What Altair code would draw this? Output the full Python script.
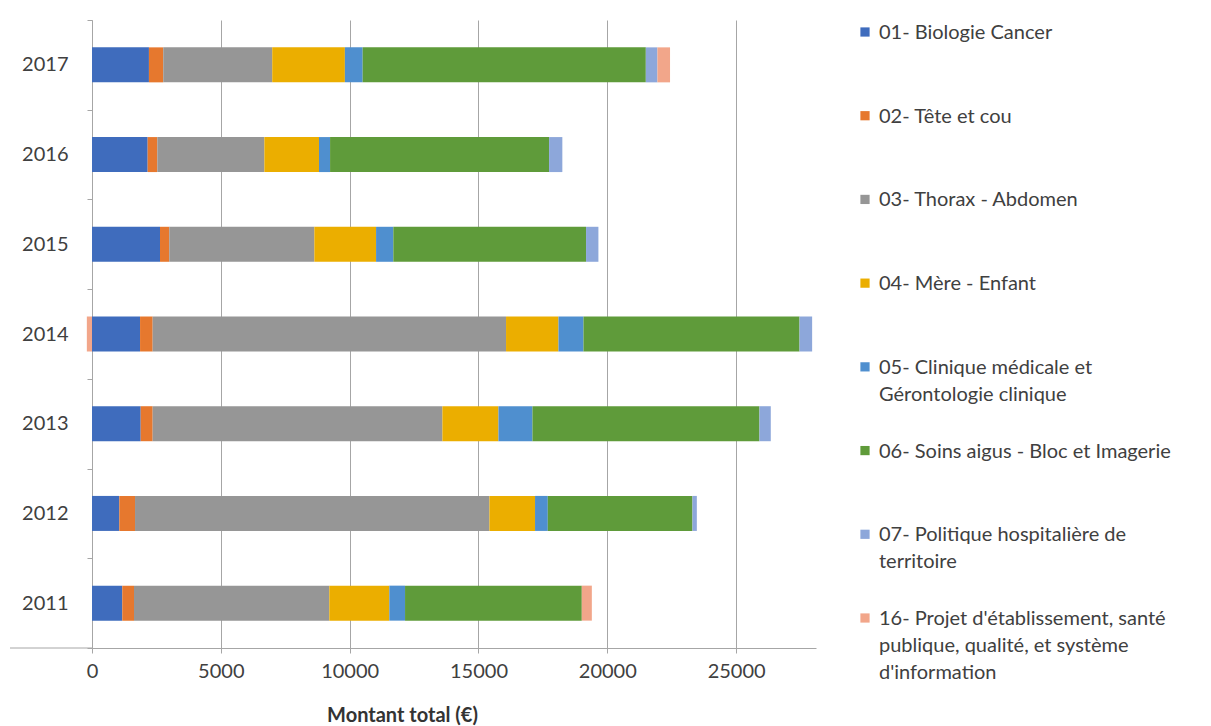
import altair as alt
import pandas as pd

years = ["2011", "2012", "2013", "2014", "2015", "2016", "2017"]
series = [
    "01- Biologie Cancer",
    "02- Tête et cou",
    "03- Thorax - Abdomen",
    "04- Mère - Enfant",
    "05- Clinique médicale et Gérontologie clinique",
    "06- Soins aigus - Bloc et Imagerie",
    "07- Politique hospitalière de territoire",
    "16- Projet d'établissement, santé publique, qualité, et système d'information",
]
legend_labels = [
    "01- Biologie Cancer",
    "02- Tête et cou",
    "03- Thorax - Abdomen",
    "04- Mère - Enfant",
    "05- Clinique médicale et\nGérontologie clinique",
    "06- Soins aigus - Bloc et Imagerie",
    "07- Politique hospitalière de\nterritoire",
    "16- Projet d'établissement, santé\npublique, qualité, et système\nd'information",
]
colors = ["#3F6CBD", "#E6782E", "#969696", "#EBAE00", "#4F8FCF", "#5F9B3A", "#8DA7DA", "#F2A68A"]

s01 = [1175, 1060, 1890, 1865, 2640, 2160, 2210]
s02 = [455, 610, 465, 490, 360, 375, 555]
s03 = [7580, 13755, 11245, 13715, 5630, 4155, 4230]
s04 = [2330, 1770, 2175, 2035, 2395, 2120, 2820]
s05 = [610, 495, 1320, 970, 670, 430, 690]
s06 = [6860, 5615, 8810, 8385, 7480, 8500, 10990]
s07 = [0, 170, 440, 490, 480, 515, 450]
s16 = [390, 0, 0, -200, 0, 0, 490]
x_ticks = [0, 5000, 10000, 15000, 20000, 25000]

values = [s01, s02, s03, s04, s05, s06, s07, s16]
rows = []
for k, (name, vals) in enumerate(zip(series, values)):
    for y, v in zip(years, vals):
        rows.append({"year": y, "serie": name, "k": k, "value": v})
df = pd.DataFrame(rows)
leg = pd.DataFrame({"serie": series, "label": legend_labels, "k": list(range(len(series)))})

FONT = "Lato"
TXT = "#404040"
LINE = "#A6A6A6"
FS = 20
W, H = 724, 628

color_scale = alt.Scale(domain=series, range=colors)

bars = alt.Chart(df).mark_bar(size=35).encode(
    y=alt.Y("year:N", sort=years[::-1], title=None,
            scale=alt.Scale(paddingInner=0, paddingOuter=0),
            axis=alt.Axis(tickBand="extent", tickSize=5, tickColor=LINE, domainColor=LINE,
                          labelPadding=19, labelFontSize=FS, labelFont=FONT, labelColor=TXT,
                          grid=False)),
    x=alt.X("value:Q", stack="zero",
            scale=alt.Scale(domain=[0, 28100], nice=False, zero=False),
            axis=alt.Axis(values=x_ticks, format="d", grid=True, gridColor=LINE,
                          domainColor=LINE, tickColor=LINE, tickSize=5, labelFlush=False,
                          labelFontSize=FS, labelFont=FONT, labelColor=TXT, labelPadding=8,
                          title="Montant total (€)", titleFont=FONT, titleFontSize=FS,
                          titleFontWeight="bold", titleColor="#333333",
                          titleX=310, titleY=67, titleAlign="center", titleBaseline="middle")),
    color=alt.Color("serie:N", scale=color_scale, legend=None),
    order=alt.Order("k:Q"),
)

axis_ext = alt.Chart(pd.DataFrame({"a": [0]})).mark_rule(color=LINE, strokeWidth=1).encode(
    x=alt.value(-82), x2=alt.value(0), y=alt.value(H)
)

leg_y = alt.Y("serie:N", sort=series,
              scale=alt.Scale(domain=series, range=[12, 598], padding=0), axis=None)

leg_sw = alt.Chart(leg).mark_square(size=85, opacity=1).encode(
    y=leg_y,
    x=alt.value(773),
    color=alt.Color("serie:N", scale=color_scale, legend=None),
)
leg_tx = alt.Chart(leg).mark_text(
    align="left", baseline="top", dy=-9, lineBreak="\n", lineHeight=27,
    font=FONT, fontSize=FS, color=TXT,
).encode(
    y=leg_y,
    x=alt.value(787),
    text="label:N",
)

legend = alt.layer(leg_sw, leg_tx)

chart = alt.layer(bars, axis_ext, legend).resolve_scale(y="independent").properties(
    width=W, height=H,
    autosize=alt.AutoSizeParams(type="none"),
    padding={"left": 92, "top": 20, "right": 1211 - 92 - W, "bottom": 726 - 20 - H},
    background="white",
).configure_view(stroke=None)

chart.save("out.html", embed_options={"renderer": "svg", "actions": False})
